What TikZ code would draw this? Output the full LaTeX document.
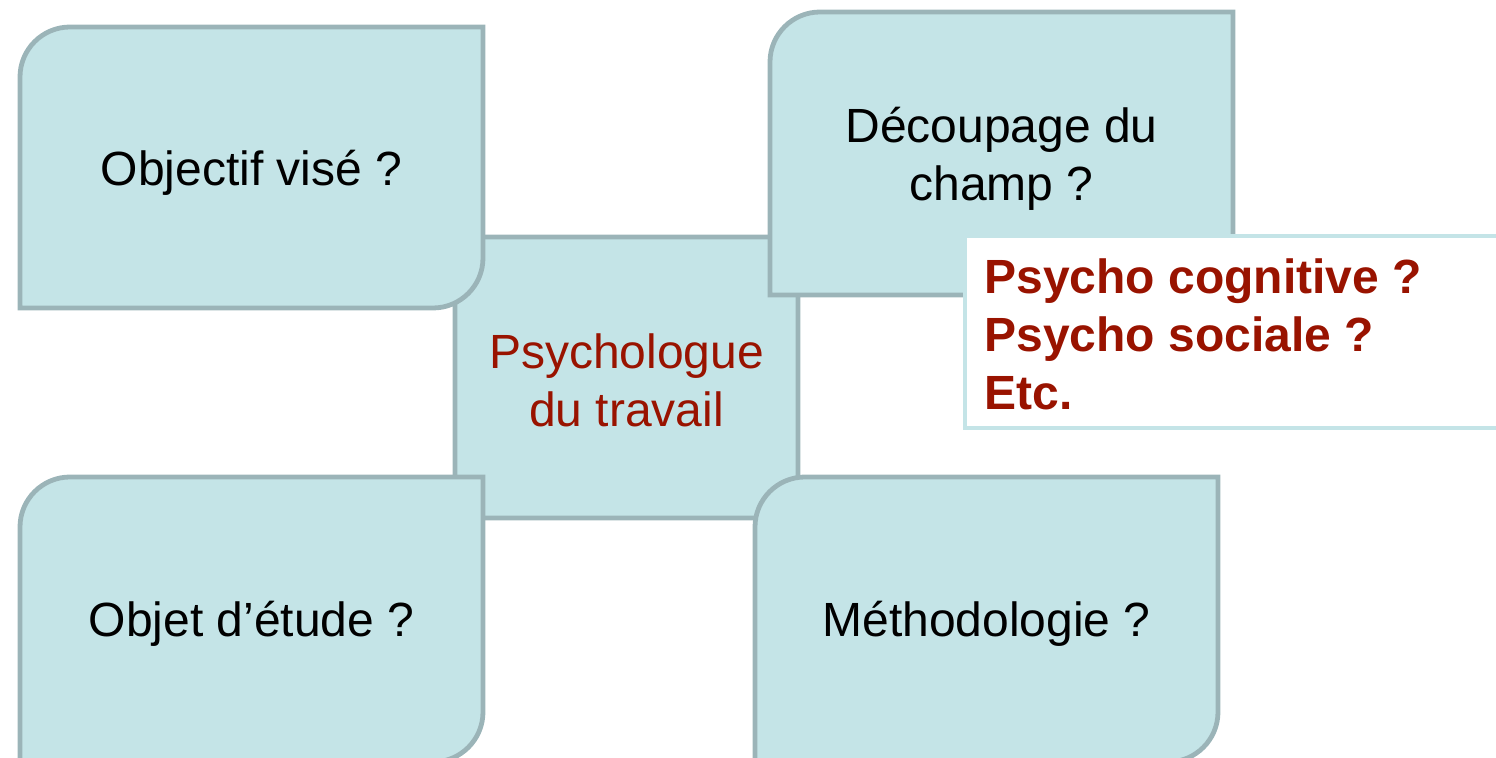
\documentclass[tikz,border=0pt]{standalone}
\usepackage{fontspec}
\setmainfont{Liberation Sans}
\definecolor{BoxFill}{HTML}{C4E4E7}
\definecolor{BoxEdge}{HTML}{9BB4B8}
\definecolor{HubRed}{HTML}{991300}
\tikzset{
  quadbox/.style={fill=BoxFill,draw=BoxEdge,line width=2.4pt},
  notebox/.style={fill=white,draw=BoxFill,line width=2.4pt},
  quadtext/.style={font=\fontsize{24}{29}\selectfont,align=center,inner sep=0pt},
  notetext/.style={font=\fontsize{24}{29}\selectfont\bfseries,text=HubRed,
    align=left,inner sep=0pt,anchor=west},
}

\begin{document}
\begin{tikzpicture}[x=0.5pt,y=-0.5pt]
  \useasboundingbox (0,0) rectangle (1496,758);

  % Hub in the middle.
  \draw[quadbox,rounded corners=8pt] (455,237) rectangle (798,518);
  \node[quadtext,text=HubRed] (hub) at (626.5,380) {Psychologue\\du travail};

  % Top left.
  \draw[quadbox] (20,308) -- (20,77) arc[start angle=180,end angle=270,radius=50]
        -- (483,27) -- (483,258) arc[start angle=0,end angle=90,radius=50] -- cycle;
  \node[quadtext] (objectif) at (251.5,172.5) {Objectif visé ?};

  % Top right.
  \draw[quadbox] (770,295) -- (770,62) arc[start angle=180,end angle=270,radius=50]
        -- (1233,12) -- (1233,245) arc[start angle=0,end angle=90,radius=50] -- cycle;
  \node[quadtext] (decoupage) at (1001.5,158.5) {Découpage du\\champ ?};

  % Bottom left.
  \draw[quadbox] (20,762) -- (20,527) arc[start angle=180,end angle=270,radius=50]
        -- (483,477) -- (483,712) arc[start angle=0,end angle=90,radius=50] -- cycle;
  \node[quadtext] (objet) at (251.5,624) {Objet d’étude ?};

  % Bottom right.
  \draw[quadbox] (755,762) -- (755,527) arc[start angle=180,end angle=270,radius=50]
        -- (1218,477) -- (1218,712) arc[start angle=0,end angle=90,radius=50] -- cycle;
  \node[quadtext] (methodo) at (986.5,624) {Méthodologie ?};

  % Note over the top right box.
  \draw[notebox] (965,236) rectangle (1502,428);
  \node[notetext] (branches) at (984,334)
        {Psycho cognitive ?\\Psycho sociale ?\\Etc.};
\end{tikzpicture}
\end{document}
